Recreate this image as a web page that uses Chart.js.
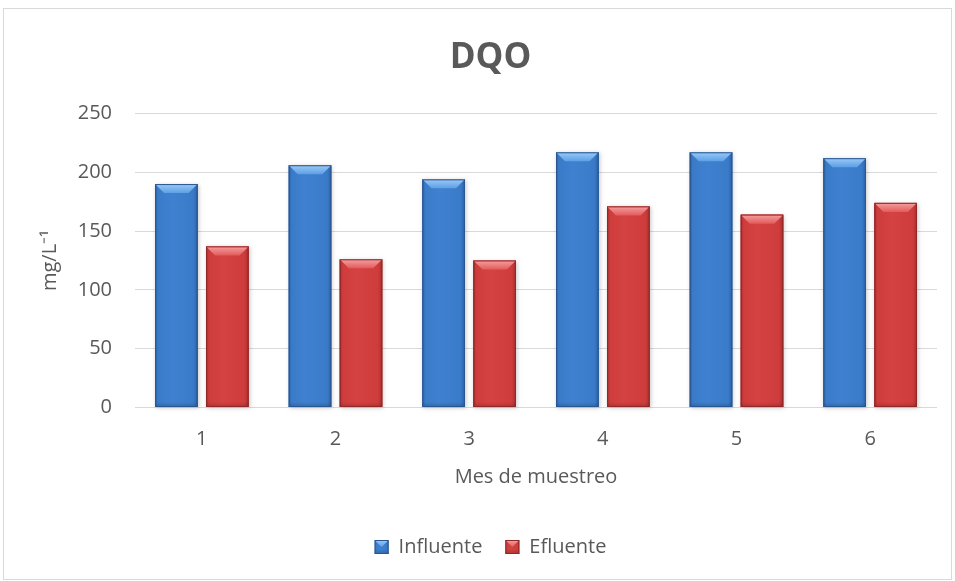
<!DOCTYPE html>
<html>
<head>
<meta charset="utf-8">
<script src="https://cdn.jsdelivr.net/npm/chart.js@4/dist/chart.umd.min.js"></script>
<style>
  html, body { margin: 0; padding: 0; background: #ffffff; }
  #wrap { width: 955px; height: 581px; position: relative; }
</style>
</head>
<body>
<div id="wrap"><canvas id="c" width="955" height="581"></canvas></div>
<script>
// Monthly COD (DQO) samples, mg/L
const categories = ['1', '2', '3', '4', '5', '6'];
const influente = [190, 206, 194, 217, 217, 212];
const efluente  = [137, 126, 125, 171, 164, 174];
const seriesNames = ['Influente', 'Efluente'];
const yMin = 0, yMax = 250, yStep = 50;

const TEXT = '#595959';
const FONT = '"Open Sans", "Liberation Sans", sans-serif';

// Shading for the bevelled bars
const palette = [
  { base: '#3a7bc9', edge: '#2d62a6', light: '#3f81d0', bevelTop: '#9ccaf6', bevelBot: '#5d9fe6', line: '#2a568f' },
  { base: '#cf3c3c', edge: '#a83030', light: '#d54242', bevelTop: '#f5a0a0', bevelBot: '#e35b5b', line: '#8f2828' }
];

function drawBevelBar(ctx, left, right, top, bottom, p, b) {
  const w = right - left;
  if (w <= 0 || bottom - top <= 0) return;
  // body with gentle horizontal shading
  const g = ctx.createLinearGradient(left, 0, right, 0);
  g.addColorStop(0, p.edge);
  g.addColorStop(0.07, p.base);
  g.addColorStop(0.4, p.light);
  g.addColorStop(0.9, p.base);
  g.addColorStop(1, p.edge);
  ctx.fillStyle = g;
  ctx.fillRect(left, top, w, bottom - top);
  // top bevel
  const bb = Math.min(b, w / 2, (bottom - top) / 2);
  const gt = ctx.createLinearGradient(0, top, 0, top + bb);
  gt.addColorStop(0, p.bevelTop);
  gt.addColorStop(1, p.bevelBot);
  ctx.fillStyle = gt;
  ctx.beginPath();
  ctx.moveTo(left, top);
  ctx.lineTo(right, top);
  ctx.lineTo(right - bb, top + bb);
  ctx.lineTo(left + bb, top + bb);
  ctx.closePath();
  ctx.fill();
  // bottom darkening
  const gb = ctx.createLinearGradient(0, bottom - 5, 0, bottom);
  gb.addColorStop(0, 'rgba(0,0,0,0)');
  gb.addColorStop(1, 'rgba(0,0,0,0.18)');
  ctx.fillStyle = gb;
  ctx.fillRect(left, bottom - 5, w, 5);
  // outline
  ctx.strokeStyle = p.line;
  ctx.lineWidth = 1;
  ctx.strokeRect(left + 0.5, top + 0.5, w - 1, bottom - top - 1);
}

const bevelPlugin = {
  id: 'bevelBars',
  beforeDraw(chart) {
    const ctx = chart.ctx;
    ctx.save();
    ctx.fillStyle = '#ffffff';
    ctx.fillRect(0, 0, chart.width, chart.height);
    ctx.strokeStyle = '#d9d9d9';
    ctx.lineWidth = 1;
    ctx.strokeRect(3.5, 8.5, 948, 571);
    ctx.restore();
  },
  afterDatasetsDraw(chart) {
    const ctx = chart.ctx;
    ctx.save();
    chart.data.datasets.forEach((ds, di) => {
      const meta = chart.getDatasetMeta(di);
      if (meta.hidden) return;
      meta.data.forEach(bar => {
        const { x, y, base, width } = bar.getProps(['x', 'y', 'base', 'width'], true);
        const left = x - width / 2, right = x + width / 2;
        // soft drop shadow
        ctx.save();
        ctx.shadowColor = 'rgba(0,0,0,0.22)';
        ctx.shadowBlur = 4;
        ctx.shadowOffsetX = 1;
        ctx.shadowOffsetY = 1;
        ctx.fillStyle = palette[di].edge;
        ctx.fillRect(left, y, width, base - y);
        ctx.restore();
        drawBevelBar(ctx, left, right, y, base, palette[di], 9);
      });
    });
    ctx.restore();
  },
  afterDraw(chart) {
    const legend = chart.legend;
    if (!legend || !legend.legendHitBoxes) return;
    const ctx = chart.ctx;
    const opts = legend.options.labels;
    const fs = opts.font.size;
    ctx.save();
    legend.legendHitBoxes.forEach((hb, i) => {
      const bt = hb.top + Math.max((fs - opts.boxHeight) / 2, 0);
      ctx.fillStyle = '#ffffff';
      ctx.fillRect(hb.left - 1, bt - 1, opts.boxWidth + 2, opts.boxHeight + 2);
      drawBevelBar(ctx, hb.left, hb.left + opts.boxWidth, bt, bt + opts.boxHeight, palette[i], 7);
    });
    ctx.restore();
  }
};

new Chart(document.getElementById('c'), {
  type: 'bar',
  data: {
    labels: categories,
    datasets: [
      { label: seriesNames[0], data: influente, backgroundColor: palette[0].base, borderWidth: 0 },
      { label: seriesNames[1], data: efluente, backgroundColor: palette[1].base, borderWidth: 0 }
    ]
  },
  options: {
    responsive: false,
    animation: false,
    devicePixelRatio: 1,
    categoryPercentage: 0.763,
    barPercentage: 0.833,
    layout: { padding: { left: 44, right: 18, top: 10, bottom: 14 } },
    plugins: {
      title: {
        display: true,
        text: 'DQO',
        color: TEXT,
        font: { family: FONT, size: 35, weight: 'bold', lineHeight: 1.2 },
        padding: { top: 27, bottom: 34.5 }
      },
      legend: {
        position: 'bottom',
        labels: {
          color: TEXT,
          font: { family: FONT, size: 20 },
          boxWidth: 14,
          boxHeight: 14,
          padding: 23
        }
      },
      tooltip: { enabled: false }
    },
    scales: {
      x: {
        grid: { display: false, drawTicks: false },
        border: { display: false },
        ticks: { color: TEXT, font: { family: FONT, size: 20 }, padding: 20 },
        title: {
          display: true,
          text: 'Mes de muestreo',
          color: TEXT,
          font: { family: FONT, size: 20, lineHeight: 1.2 },
          padding: { top: 0, bottom: 25 }
        },
        afterFit(scale) { scale.height = 106.5; }
      },
      y: {
        min: yMin,
        max: yMax,
        grid: { color: '#d9d9d9', lineWidth: 1, drawTicks: false },
        border: { display: false },
        ticks: { stepSize: yStep, color: TEXT, font: { family: FONT, size: 20 }, padding: 23 },
        title: {
          display: true,
          text: 'mg/L\u207B\u00B9',
          color: TEXT,
          font: { family: FONT, size: 20, lineHeight: 1.2 },
          padding: { top: -6, bottom: 0 }
        },
        afterFit(scale) { scale.width = 91; }
      }
    }
  },
  plugins: [bevelPlugin]
});
</script>
</body>
</html>
